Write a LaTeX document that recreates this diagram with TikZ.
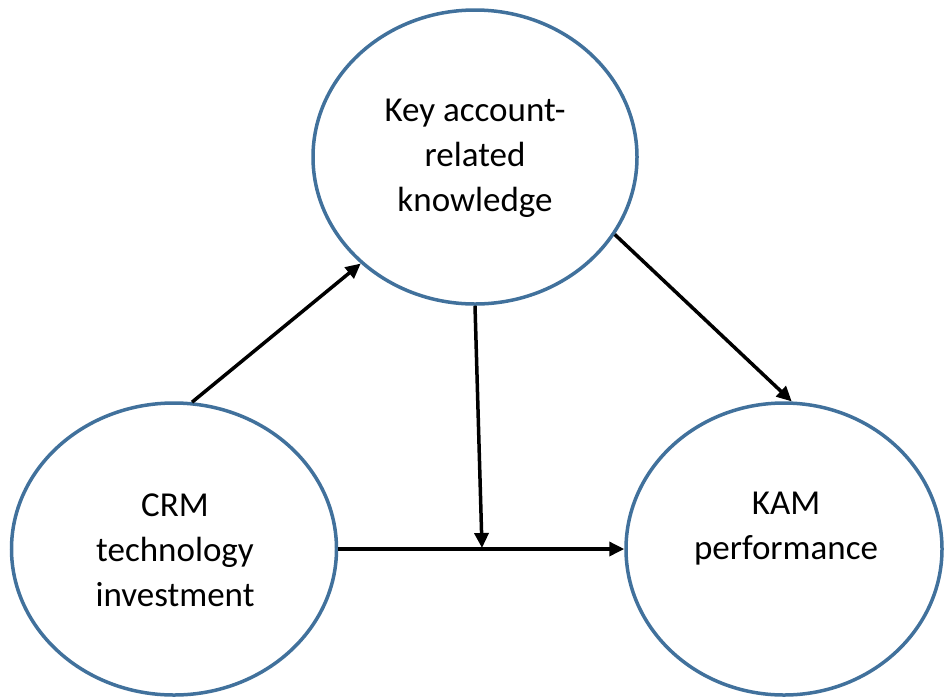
\documentclass[tikz,border=0pt]{standalone}
\usepackage{fontspec}
\setmainfont{Carlito}
\usetikzlibrary{shapes.geometric,arrows.meta}
\definecolor{ringblue}{HTML}{41719C}
\begin{document}
\begin{tikzpicture}[x=1pt,y=-1pt,
  ring/.style={draw=ringblue,line width=3.5pt,ellipse,inner sep=0pt},
  lbl/.style={align=center,font=\fontsize{35}{45}\selectfont,text=black},
  arr/.style={line width=3.5pt,draw=black,-{Triangle[length=15pt,width=14pt]}}]
\useasboundingbox (0,0) rectangle (944,697);
\node[ring,minimum width=324pt,minimum height=294pt] (kak) at (475,157) {};
\node[ring,minimum width=325pt,minimum height=292pt] (crm) at (174,549) {};
\node[ring,minimum width=316pt,minimum height=292pt] (kam) at (784,549) {};
\node[lbl] (kakt) at (475,158) {Key account-\\related\\knowledge};
\node[lbl] (crmt) at (175,550) {CRM\\technology\\investment};
\node[lbl] (kamt) at (786,529) {KAM\\performance};
\coordinate (j) at (482,548);
\draw[arr] (crm.83.7) -- (kak.223.4);
\draw[arr] (kak.331) -- (kam.87.6);
\draw[arr] (kak.south) -- (j);
\draw[arr] (crm.east) -- (kam.west);
\end{tikzpicture}
\end{document}
